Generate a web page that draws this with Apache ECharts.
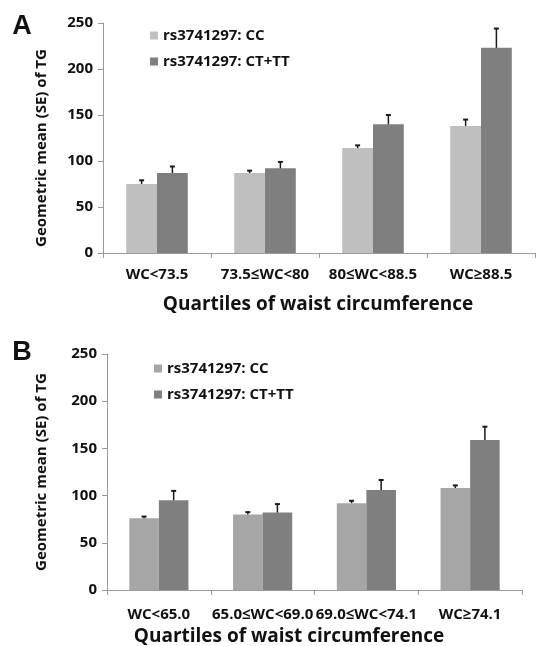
<!DOCTYPE html>
<html>
<head>
<meta charset="utf-8">
<script src="https://cdn.jsdelivr.net/npm/echarts@6/dist/echarts.min.js"></script>
<style>
html,body{margin:0;padding:0;background:#fff;}
#chart{width:537px;height:646px;}
</style>
</head>
<body>
<div id="chart"></div>
<script>
// ---- Data ----
var seriesNames = ['rs3741297: CC', 'rs3741297: CT+TT'];
var yTicks = [0, 50, 100, 150, 200, 250];

var catsA = ['WC<73.5', '73.5≤WC<80', '80≤WC<88.5', 'WC≥88.5'];
var ccA = [75, 87, 114, 138];
var ccSeA = [4, 2.5, 3, 7];
var ctA = [87, 92, 140, 223];
var ctSeA = [7, 7, 10, 21];

var catsB = ['WC<65.0', '65.0≤WC<69.0', '69.0≤WC<74.1', 'WC≥74.1'];
var ccB = [76, 80, 92, 108];
var ccSeB = [1.8, 2.5, 2.5, 2.8];
var ctB = [95, 82, 106, 159];
var ctSeB = [10, 9, 10.5, 14];

// ---- Styles ----
var FONT = 'Open Sans';
var TXT = '#111';
var AXIS = '#9a9a9a';
var lightA = '#bfbfbf', lightB = '#a6a6a6', dark = '#7f7f7f';
var BARW = 0.285;

function errData(vals, se) {
  return vals.map(function (v, i) { return [i, v, se[i]]; });
}
function errSeries(vals, se, side, xi, yi) {
  return {
    type: 'custom',
    xAxisIndex: xi, yAxisIndex: yi, z: 5, silent: true,
    data: errData(vals, se),
    renderItem: function (params, api) {
      var base = api.coord([api.value(0), api.value(1)]);
      var top = api.coord([api.value(0), api.value(1) + api.value(2)]);
      var band = api.size([1, 0])[0];
      var x = base[0] + side * BARW * band / 2;
      return {
        type: 'group',
        children: [
          { type: 'line', shape: { x1: x, y1: base[1], x2: x, y2: top[1] },
            style: { stroke: '#1a1a1a', lineWidth: 1.5 } },
          { type: 'line', shape: { x1: x - 2.5, y1: top[1], x2: x + 2.5, y2: top[1] },
            style: { stroke: '#1a1a1a', lineWidth: 2 } }
        ]
      };
    }
  };
}
function xAxis(cats, gi, margin) {
  return {
    type: 'category', gridIndex: gi, data: cats,
    axisLine: { show: true, lineStyle: { color: AXIS, width: 1 } },
    axisTick: { show: true, alignWithLabel: false, length: 5, inside: false, lineStyle: { color: AXIS } },
    axisLabel: { color: TXT, fontFamily: FONT, fontWeight: 'bold', fontSize: 15, margin: margin, interval: 0 },
    splitLine: { show: false }
  };
}
function yAxis(gi) {
  return {
    type: 'value', gridIndex: gi, min: yTicks[0], max: yTicks[yTicks.length - 1], interval: 50,
    axisLine: { show: true, lineStyle: { color: AXIS, width: 1 } },
    axisTick: { show: true, length: 5, lineStyle: { color: AXIS } },
    axisLabel: { color: TXT, fontFamily: FONT, fontWeight: 'bold', fontSize: 15, margin: 10 },
    splitLine: { show: false }
  };
}
function bar(name, vals, color, xi, yi) {
  return {
    type: 'bar', name: name, data: vals, xAxisIndex: xi, yAxisIndex: yi,
    barWidth: (BARW * 100) + '%', barGap: '0%',
    itemStyle: { color: color }, silent: true
  };
}
function legend(left, top, light) {
  return {
    orient: 'vertical', left: left, top: top, itemWidth: 8, itemHeight: 8, itemGap: 11,
    icon: 'rect',
    textStyle: { color: TXT, fontFamily: FONT, fontWeight: 'bold', fontSize: 15 },
    data: [
      { name: seriesNames[0], itemStyle: { color: light } },
      { name: seriesNames[1], itemStyle: { color: dark } }
    ],
    selectedMode: false
  };
}
function txt(x, y, s, size, rot, fam) {
  return {
    type: 'text', x: x, y: y, rotation: rot || 0,
    style: { text: s, fill: TXT, font: 'bold ' + size + 'px ' + (fam || FONT),
      textAlign: 'center', textVerticalAlign: 'middle' }
  };
}

var chart = echarts.init(document.getElementById('chart'), null, { renderer: 'canvas' });
chart.setOption({
  animation: false,
  backgroundColor: '#fff',
  grid: [
    { left: 103, top: 23, width: 432, height: 230 },
    { left: 107, top: 354, width: 415, height: 236 }
  ],
  xAxis: [xAxis(catsA, 0, 14), xAxis(catsB, 1, 17)],
  yAxis: [yAxis(0), yAxis(1)],
  legend: [legend(145, 23, lightA), legend(149, 356, lightB)],
  series: [
    bar(seriesNames[0], ccA, lightA, 0, 0),
    bar(seriesNames[1], ctA, dark, 0, 0),
    bar(seriesNames[0], ccB, lightB, 1, 1),
    bar(seriesNames[1], ctB, dark, 1, 1),
    errSeries(ccA, ccSeA, -1, 0, 0),
    errSeries(ctA, ctSeA, 1, 0, 0),
    errSeries(ccB, ccSeB, -1, 1, 1),
    errSeries(ctB, ctSeB, 1, 1, 1)
  ],
  graphic: [
    txt(22, 27, 'A', 27, 0, 'Liberation Sans'),
    txt(22, 353, 'B', 27, 0, 'Liberation Sans'),
    txt(42, 148, 'Geometric mean (SE) of TG', 15, Math.PI / 2),
    txt(42, 472, 'Geometric mean (SE) of TG', 15, Math.PI / 2),
    txt(318, 305, 'Quartiles of waist circumference', 19),
    txt(289, 637, 'Quartiles of waist circumference', 19)
  ]
});
</script>
</body>
</html>
